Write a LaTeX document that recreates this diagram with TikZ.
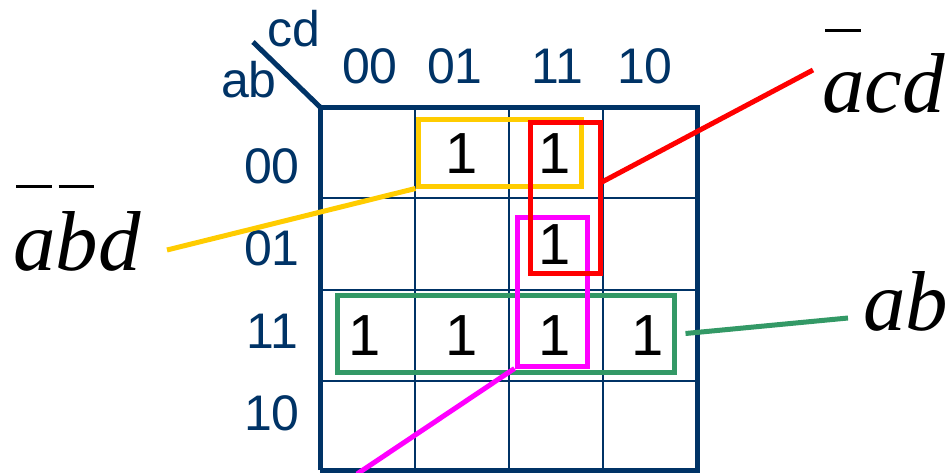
\documentclass[tikz,border=0pt]{standalone}
\usepackage{fontspec}
\setmainfont{Liberation Serif}
\newfontfamily\arialf{Liberation Sans}
\definecolor{navy}{RGB}{0,51,102}
\definecolor{kyel}{RGB}{255,204,0}
\definecolor{kred}{RGB}{255,0,0}
\definecolor{kmag}{RGB}{255,0,255}
\definecolor{kgrn}{RGB}{51,153,102}
\newcommand\ovbar[2]{\setbox0\hbox{#2}\rlap{\hskip 3pt\rule[#1]{\dimexpr\wd0-7pt\relax}{3pt}}\box0}
\begin{document}
\begin{tikzpicture}[x=1pt,y=-1pt,
  axlab/.style={font=\arialf\fontsize{50}{50}\selectfont, text=navy, inner sep=0},
  one/.style={font=\arialf\fontsize{58}{58}\selectfont, text=black, inner sep=0},
  term/.style={font=\itshape\fontsize{85}{85}\selectfont, text=black, inner sep=0, anchor=base west},
  grp/.style={draw, line width=5pt, inner sep=0, fill=none},
  conn/.style={line width=5pt},
  thin/.style={navy, line width=2.2pt},
  thick/.style={navy, line width=5pt}]
\useasboundingbox (0,0) rectangle (948,472);
% grid
\foreach \x in {415,509,603} \draw[thin] (\x,107) -- (\x,470);
\foreach \y in {198,290,381} \draw[thin] (320,\y) -- (697,\y);
\draw[thick] (253,42) -- (320,107);
\draw[thick, line join=miter] (320,470) -- (320,107) -- (697,107) -- (697,470) -- (320,470);
% headers
\node[axlab] (cd) at (294,29) {cd};
\node[axlab] (ab) at (249,80) {ab};
\node[axlab] (c00) at (370,66) {00};
\node[axlab] (c01) at (455,66) {01};
\node[axlab] (c11) at (557,66) {11};
\node[axlab] (c10) at (645,66) {10};
\node[axlab] (r00) at (272,166) {00};
\node[axlab] (r01) at (272,248) {01};
\node[axlab] (r11) at (272,331) {11};
\node[axlab] (r10) at (272,413) {10};
% ones
\node[one] (m1) at (462,154) {1};
\node[one] (m3) at (555,154) {1};
\node[one] (m7) at (555,245) {1};
\node[one] (m12) at (365,336) {1};
\node[one] (m13) at (462,336) {1};
\node[one] (m15) at (555,336) {1};
\node[one] (m14) at (648,336) {1};
% groups
\node[grp, kgrn, minimum width=337pt, minimum height=77pt] (grn) at (505.5,333.5) {};
\node[grp, kyel, minimum width=163pt, minimum height=67pt] (yel) at (499.5,152.5) {};
\node[grp, kmag, minimum width=70pt, minimum height=149pt] (mag) at (552,291.5) {};
\node[grp, kred, minimum width=70pt, minimum height=151pt] (red) at (565,197.5) {};
% terms
\node[term] (tabd) at (13,270) {\ovbar{82pt}{a}\ovbar{82pt}{b}d};
\node[term] (tacd) at (822,112) {\ovbar{80pt}{a}cd};
\node[term] (tab) at (863,330) {ab};
\coordinate (eyel) at (167,250);
\coordinate (ered) at (813,70);
\coordinate (sred) at (602,182);
\coordinate (egrn) at (848,318);
\coordinate (emag) at (357,474);
\draw[conn, kyel] (yel.south west) -- (eyel);
\draw[conn, kred] (sred) -- (ered);
\draw[conn, kgrn] ([xshift=9pt]grn.east) -- (egrn);
\draw[conn, kmag] (mag.south west) -- (emag);
\end{tikzpicture}
\end{document}
